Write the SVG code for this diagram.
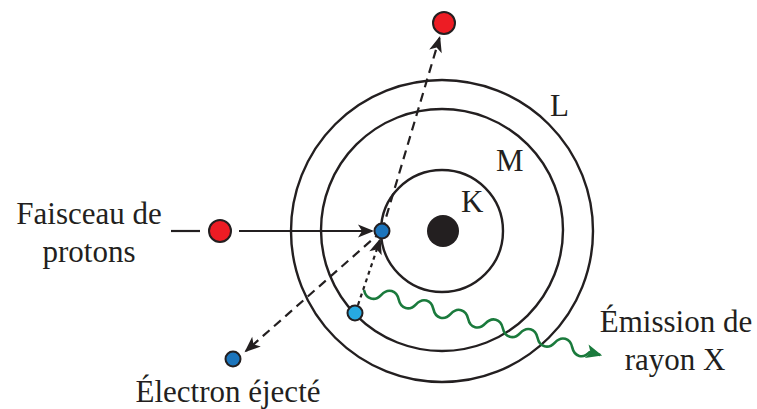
<svg xmlns="http://www.w3.org/2000/svg" width="757" height="409" viewBox="0 0 757 409">
<defs>
<style>
.orbit{fill:none;stroke:#231f20;stroke-width:2.4}
.lbl{font-size:31px;fill:#231f20}
.arr{fill:none;stroke:#231f20;stroke-width:2.2}
.dash{stroke-dasharray:9 6}
.dot{stroke-dasharray:4 4}
.proton{fill:#ed1c24;stroke:#231f20;stroke-width:2}
.eK{fill:#1c75bc;stroke:#231f20;stroke-width:2}
.eM{fill:#27aae1;stroke:#231f20;stroke-width:2}
</style>
<marker id="ah" markerUnits="userSpaceOnUse" viewBox="-17 -8 20 16" markerWidth="20" markerHeight="16" refX="0" refY="0" orient="auto">
<path d="M2,0 L-14,-6.5 L-10,0 L-14,6.5 Z" fill="#231f20"/>
</marker>
<marker id="ahg" markerUnits="userSpaceOnUse" viewBox="-17 -8 20 16" markerWidth="20" markerHeight="16" refX="0" refY="0" orient="auto">
<path d="M2,0 L-14,-7 L-10,0 L-14,7 Z" fill="#1a7a3c"/>
</marker>
</defs>

<g id="atom">
<circle class="orbit" cx="442" cy="231" r="151"/>
<circle class="orbit" cx="442" cy="230" r="121"/>
<circle class="orbit" cx="442" cy="231" r="61"/>
<circle cx="443" cy="231" r="16" fill="#231f20"/>
</g>

<g id="connectors">
<line class="arr" x1="171" y1="231" x2="200" y2="231"/>
<line class="arr" x1="239" y1="231" x2="372" y2="231" marker-end="url(#ah)"/>
<line class="arr dash" x1="382" y1="231" x2="439.5" y2="38" marker-end="url(#ah)"/>
<line class="arr dash" x1="382" y1="231" x2="246" y2="351" marker-end="url(#ah)"/>
<line class="arr dot" x1="358" y1="305" x2="380" y2="240" marker-end="url(#ah)"/>
<g transform="translate(364,290) rotate(15.4)">
<path fill="none" stroke="#1a7a3c" stroke-width="2.6" marker-end="url(#ahg)" d="M0,0 c4.5,8.5 13.5,8.5 18,0 c4.5,-8.5 13.5,-8.5 18,0 c4.5,8.5 13.5,8.5 18,0 c4.5,-8.5 13.5,-8.5 18,0 c4.5,8.5 13.5,8.5 18,0 c4.5,-8.5 13.5,-8.5 18,0 c4.5,8.5 13.5,8.5 18,0 c4.5,-8.5 13.5,-8.5 18,0 c4.5,8.5 13.5,8.5 18,0 c4.5,-8.5 13.5,-8.5 18,0 c4.5,8.5 13.5,8.5 18,0 c4.5,-8.5 13.5,-8.5 18,0 c4.5,8.5 13.5,8.5 18,0 l11,0"/>
</g>
</g>

<g id="proton-in"><circle class="proton" cx="220" cy="231" r="11"/></g>
<g id="proton-out"><circle class="proton" cx="444" cy="23" r="11"/></g>
<g id="electron-K"><circle class="eK" cx="382" cy="231" r="7.5"/></g>
<g id="electron-M"><circle class="eM" cx="355" cy="313" r="7.5"/></g>
<g id="electron-ejected"><circle class="eK" cx="233" cy="359" r="7.5"/></g>

<g id="labels" font-family="Liberation Serif, Times New Roman, DejaVu Serif, serif">
<text class="lbl" x="461" y="212">K</text>
<text class="lbl" x="496" y="171">M</text>
<text class="lbl" x="550" y="116">L</text>
<text class="lbl" x="89" y="224" text-anchor="middle">Faisceau de</text>
<text class="lbl" x="89" y="262" text-anchor="middle">protons</text>
<text class="lbl" x="228" y="402" text-anchor="middle">Électron éjecté</text>
<text class="lbl" x="676" y="332" text-anchor="middle">Émission de</text>
<text class="lbl" x="675" y="370" text-anchor="middle">rayon X</text>
</g>
</svg>
